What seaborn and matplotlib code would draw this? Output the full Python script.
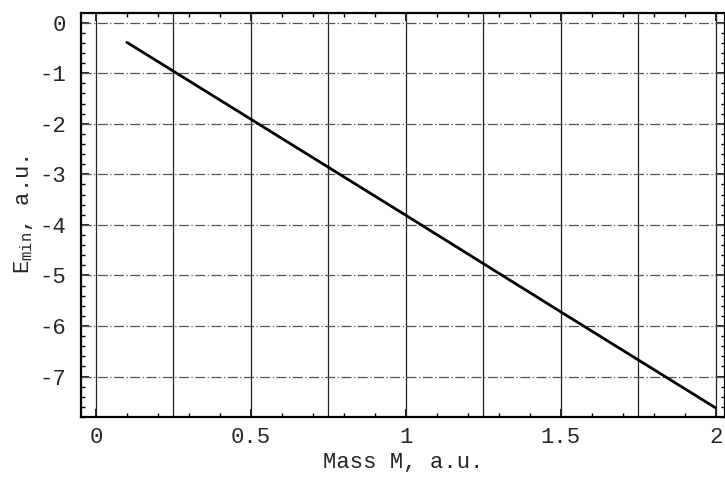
import numpy as np
import pandas as pd
import matplotlib.pyplot as plt
import seaborn as sns
from matplotlib.ticker import MultipleLocator

# datos
masa = [0.1, 0.5, 1.0, 1.5, 2.0]
energia = [-0.39, -1.91, -3.81, -5.72, -7.62]
x_ticks = [0, 0.5, 1, 1.5, 2]
x_labels = ['0', '0.5', '1', '1.5', '2']
y_ticks = [0, -1, -2, -3, -4, -5, -6, -7]
y_labels = ['0', '-1', '-2', '-3', '-4', '-5', '-6', '-7']
x_grid = [0, 0.25, 0.5, 0.75, 1.0, 1.25, 1.5, 1.75, 2.0]

df = pd.DataFrame({'M': masa, 'E': energia})

sns.set_style('ticks')
plt.rcParams['font.family'] = ['Liberation Mono', 'DejaVu Sans']
plt.rcParams['mathtext.default'] = 'regular'

fig = plt.figure(figsize=(7.25, 4.83), dpi=100)
ax = fig.add_axes([0.1117, 0.1366, 0.8883, 0.8365])

# rejilla
for xv in x_grid:
    ax.axvline(xv, color='#222222', lw=0.9, zorder=1)
for yv in y_ticks:
    ax.axhline(yv, color='#555555', lw=0.9, ls='-.', dashes=(8, 2, 1, 2), zorder=1)

sns.lineplot(data=df, x='M', y='E', color='black', lw=2, ax=ax, zorder=3)

ax.set_xlim(-0.048, 2.03)
ax.set_ylim(-7.8, 0.19)
ax.set_xticks(x_ticks)
ax.set_xticklabels(x_labels)
ax.set_yticks(y_ticks)
ax.set_yticklabels(y_labels)
ax.xaxis.set_minor_locator(MultipleLocator(0.1))
ax.yaxis.set_minor_locator(MultipleLocator(0.2))
ax.tick_params(which='both', direction='in', color='black', top=True, right=True)
ax.tick_params(which='major', length=6, width=1.2, labelsize=16)
ax.tick_params(which='minor', length=3, width=1)
ax.tick_params(axis='x', pad=7)
ax.tick_params(axis='y', pad=11)
for s in ax.spines.values():
    s.set_linewidth(1.6)
    s.set_color('black')

ax.set_xlabel('Mass M, a.u.', fontsize=16, labelpad=3)
ax.set_ylabel('E$_{min}$, a.u.', fontsize=16, labelpad=3)

fig.savefig('out.png', dpi=100)
